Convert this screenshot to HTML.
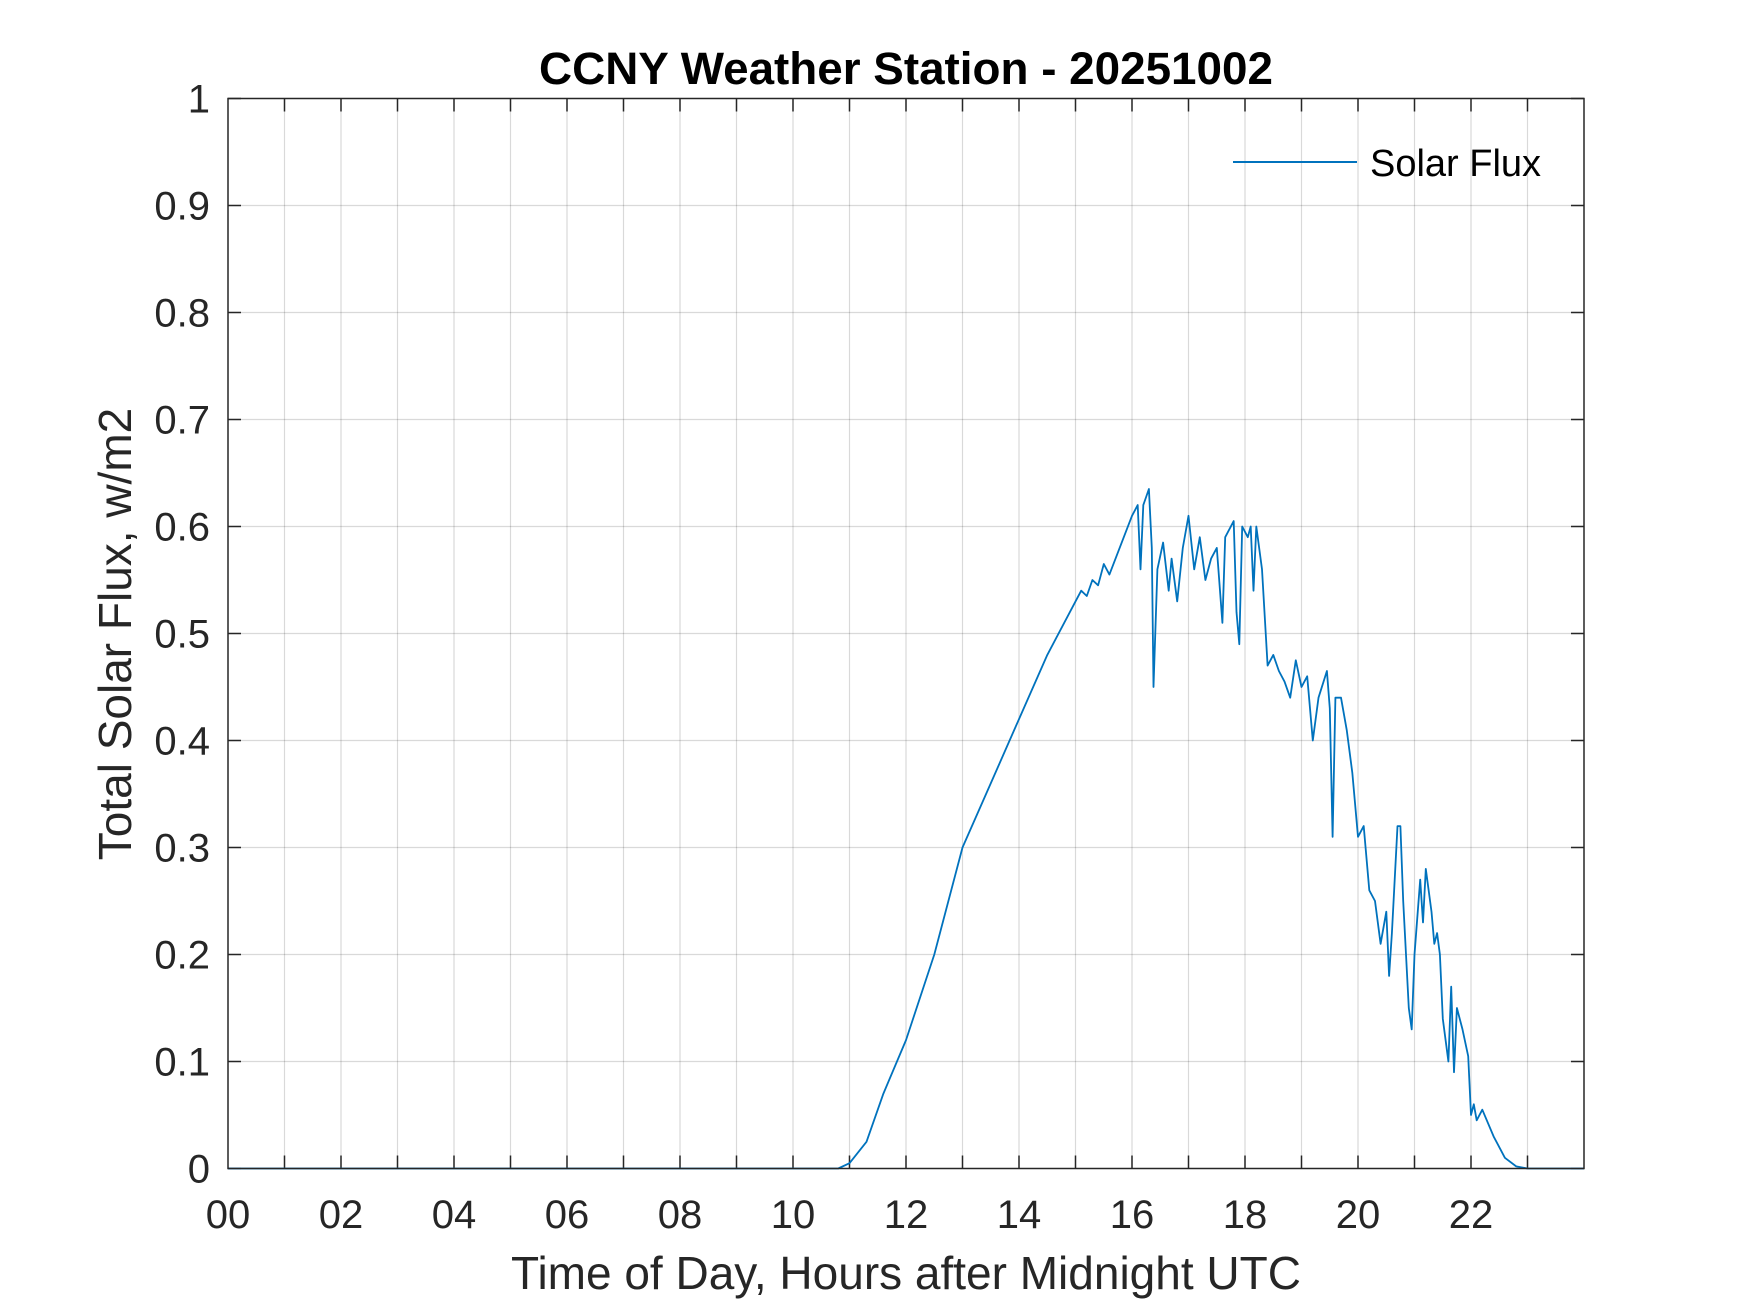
<!DOCTYPE html>
<html><head><meta charset="utf-8"><style>
html,body{margin:0;padding:0;background:#fff;}
svg{display:block;font-family:"Liberation Sans",Arial,sans-serif;}
</style></head><body>
<svg id="chart" width="1750" height="1313" viewBox="0 0 1750 1313">
<rect width="1750" height="1313" fill="#fff"/>
<g id="grid"></g>
<g id="ticks"></g>
<g id="series"></g>
<rect x="228" y="98.5" width="1356" height="1070" fill="none" stroke="#262626" stroke-width="1.5"/>
<text x="906" y="84" text-anchor="middle" font-size="45.8" font-weight="bold" fill="#000">CCNY Weather Station - 20251002</text>
<text x="906" y="1289" text-anchor="middle" font-size="46" fill="#262626">Time of Day, Hours after Midnight UTC</text>
<text transform="translate(131,634) rotate(-90)" text-anchor="middle" font-size="46" fill="#262626">Total Solar Flux, w/m2</text>
<g>
<line x1="1233" y1="162" x2="1357" y2="162" stroke="#0072BD" stroke-width="2"/>
<text x="1370" y="176" font-size="38" fill="#000">Solar Flux</text>
</g>
</svg>
<script>
const hours=[0,10.8,11.0,11.3,11.6,12,12.5,13,13.5,14,14.5,15,15.1,15.2,15.3,15.4,15.5,15.6,16,16.1,16.15,16.2,16.3,16.35,16.38,16.45,16.55,16.65,16.7,16.8,16.9,17.0,17.1,17.2,17.3,17.4,17.5,17.6,17.65,17.8,17.85,17.9,17.95,18.05,18.1,18.15,18.2,18.3,18.4,18.5,18.6,18.7,18.8,18.9,19.0,19.1,19.2,19.3,19.45,19.5,19.55,19.6,19.7,19.8,19.9,20.0,20.1,20.2,20.3,20.4,20.5,20.55,20.6,20.7,20.75,20.8,20.9,20.95,21.0,21.1,21.15,21.2,21.3,21.35,21.4,21.45,21.5,21.6,21.65,21.7,21.75,21.85,21.95,22.0,22.05,22.1,22.2,22.4,22.6,22.8,23,24];
const flux=[0,0,0.005,0.025,0.07,0.12,0.2,0.30,0.36,0.42,0.48,0.53,0.54,0.535,0.55,0.545,0.565,0.555,0.61,0.62,0.56,0.62,0.635,0.58,0.45,0.56,0.585,0.54,0.57,0.53,0.58,0.61,0.56,0.59,0.55,0.57,0.58,0.51,0.59,0.605,0.52,0.49,0.6,0.59,0.6,0.54,0.6,0.56,0.47,0.48,0.465,0.455,0.44,0.475,0.45,0.46,0.40,0.44,0.465,0.43,0.31,0.44,0.44,0.41,0.37,0.31,0.32,0.26,0.25,0.21,0.24,0.18,0.22,0.32,0.32,0.25,0.15,0.13,0.20,0.27,0.23,0.28,0.24,0.21,0.22,0.20,0.14,0.10,0.17,0.09,0.15,0.13,0.105,0.05,0.06,0.045,0.055,0.03,0.01,0.002,0,0];
const xTickLabels=["00","02","04","06","08","10","12","14","16","18","20","22"];
const yTickLabels=["0","0.1","0.2","0.3","0.4","0.5","0.6","0.7","0.8","0.9","1"];
const NS="http://www.w3.org/2000/svg";
const L=228,R=1584,T=98.5,B=1168.5;
const xs=h=>L+(R-L)*h/24;
const ys=v=>B-(B-T)*v;
const grid=document.getElementById('grid'),ticks=document.getElementById('ticks'),series=document.getElementById('series');
function mk(tag,attrs,parent){const e=document.createElementNS(NS,tag);for(const k in attrs)e.setAttribute(k,attrs[k]);parent.appendChild(e);return e;}
for(let h=1;h<24;h++){
  const x=xs(h);
  const g=mk('line',{x1:x,y1:T,x2:x,y2:B,stroke:'#000','stroke-opacity':0.15,'stroke-width':1.2},grid);
  
  
  const t1=mk('line',{x1:x,y1:B,x2:x,y2:B-13,stroke:'#262626','stroke-width':1.5},ticks);
  
  
  const t2=mk('line',{x1:x,y1:T,x2:x,y2:T+13,stroke:'#262626','stroke-width':1.5},ticks);
  
  
}
xTickLabels.forEach((lab,i)=>{
  const t=mk('text',{x:xs(i*2),y:1228,'text-anchor':'middle','font-size':40,fill:'#262626'},ticks);
  t.textContent=lab;
  
  
});
yTickLabels.forEach((lab,i)=>{
  const v=parseFloat(lab),y=ys(v);
  if(i>0&&i<10){
    const g=mk('line',{x1:L,y1:y,x2:R,y2:y,stroke:'#000','stroke-opacity':0.15,'stroke-width':1.2},grid);
    
    
  }
  const t1=mk('line',{x1:L,y1:y,x2:L+13,y2:y,stroke:'#262626','stroke-width':1.5},ticks);
  
  
  const t2=mk('line',{x1:R,y1:y,x2:R-13,y2:y,stroke:'#262626','stroke-width':1.5},ticks);
  
  
  const t=mk('text',{x:210,y:y+14,'text-anchor':'end','font-size':40,fill:'#262626'},ticks);
  t.textContent=lab;
  
  
});
const pts=hours.map((h,i)=>xs(h).toFixed(1)+','+ys(flux[i]).toFixed(1)).join(' ');
const pl=mk('polyline',{points:pts,fill:'none',stroke:'#0072BD','stroke-width':1.8,'stroke-linejoin':'round'},series);


</script>
</body></html>
